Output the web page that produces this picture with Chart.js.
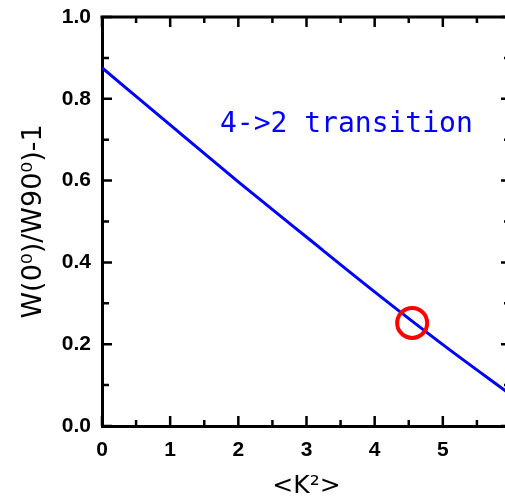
<!DOCTYPE html>
<html>
<head>
<meta charset="utf-8">
<script src="https://cdn.jsdelivr.net/npm/chart.js@4/dist/chart.umd.min.js"></script>
<style>
  html, body { margin: 0; padding: 0; background: #fff; overflow: hidden; }
  #wrap { width: 505px; height: 499px; overflow: hidden; }
  canvas { display: block; }
</style>
</head>
<body>
<div id="wrap"><canvas id="c" width="520" height="499"></canvas></div>
<script>
// ---- data ----
const kSquared = [0, 1, 2, 3, 4, 5, 6];
const anisotropy = [0.876, 0.736, 0.597, 0.462, 0.328, 0.199, 0.076];
const markedX = [4.55];
const markedY = [0.252];
const xTickLabels = [0, 1, 2, 3, 4, 5, 6];
const yTickLabels = [0.0, 0.2, 0.4, 0.6, 0.8, 1.0];
const annotationText = '4->2 transition';
const annotationAt = [1.73, 0.72];
const xTitle = '<K\u00B2>';
const yTitle = 'W(0\u2070)/W90\u2070)-1';

const curve = kSquared.map((x, i) => ({ x, y: anisotropy[i] }));
const marked = markedX.map((x, i) => ({ x, y: markedY[i] }));

const framePlugin = {
  id: 'frame',
  afterDraw(chart) {
    const { ctx, chartArea: a, scales: { x, y } } = chart;
    ctx.save();
    ctx.strokeStyle = '#000';
    ctx.lineCap = 'butt';
    // top & right borders
    ctx.lineWidth = 3;
    ctx.beginPath();
    ctx.moveTo(a.left - 1.5, a.top); ctx.lineTo(a.right + 1.5, a.top);
    ctx.moveTo(a.right, a.top); ctx.lineTo(a.right, a.bottom);
    ctx.stroke();
    // inward ticks
    ctx.lineWidth = 2.5;
    const xs = [], ys = [];
    for (let i = 0; i <= (xTickLabels.length - 1) * 2; i++) xs.push({ v: xTickLabels[0] + i * 0.5, major: i % 2 === 0 });
    for (let i = 0; i <= (yTickLabels.length - 1) * 2; i++) ys.push({ v: yTickLabels[0] + i * 0.1, major: i % 2 === 0 });
    ctx.beginPath();
    xs.forEach(t => {
      const px = x.getPixelForValue(t.v);
      const len = t.major ? 10 : 6;
      ctx.moveTo(px, a.bottom); ctx.lineTo(px, a.bottom - len);
      ctx.moveTo(px, a.top); ctx.lineTo(px, a.top + len);
    });
    ys.forEach(t => {
      const py = y.getPixelForValue(t.v);
      const len = t.major ? 10 : 7;
      ctx.moveTo(a.left, py); ctx.lineTo(a.left + len, py);
      ctx.moveTo(a.right, py); ctx.lineTo(a.right - len, py);
    });
    ctx.stroke();
    // annotation text
    ctx.fillStyle = '#0000ff';
    ctx.font = '28px "DejaVu Sans Mono"';
    ctx.textBaseline = 'alphabetic';
    ctx.textAlign = 'left';
    ctx.fillText(annotationText, x.getPixelForValue(annotationAt[0]), y.getPixelForValue(annotationAt[1]));
    ctx.restore();
  }
};

new Chart(document.getElementById('c'), {
  type: 'line',
  data: {
    datasets: [
      {
        data: curve,
        borderColor: '#0000ff',
        borderWidth: 3,
        pointRadius: 0,
        fill: false,
        cubicInterpolationMode: 'monotone',
        order: 2
      },
      {
        type: 'scatter',
        data: marked,
        pointStyle: 'circle',
        pointRadius: 15,
        pointBorderWidth: 4,
        pointBorderColor: '#ff0000',
        pointBackgroundColor: 'rgba(0,0,0,0)',
        showLine: false,
        order: 1
      }
    ]
  },
  options: {
    responsive: false,
    animation: false,
    devicePixelRatio: 1,
    layout: { autoPadding: false, padding: { top: 17, right: 9, left: 0, bottom: 0 } },
    plugins: { legend: { display: false }, tooltip: { enabled: false } },
    scales: {
      x: {
        type: 'linear',
        min: 0, max: 6,
        afterFit(s) { s.height = 73; s.paddingLeft = 0; s.paddingRight = 0; },
        afterBuildTicks(s) { s.ticks = xTickLabels.map(v => ({ value: v })); },
        grid: { display: false, drawTicks: false },
        border: { display: true, color: '#000', width: 3 },
        ticks: {
          color: '#000', padding: 12, maxRotation: 0,
          font: { family: 'Liberation Sans', size: 21, weight: 'bold' },
          callback: v => String(v)
        },
        title: {
          display: true, text: xTitle, color: '#000',
          font: { family: 'DejaVu Sans', size: 25, lineHeight: 1 },
          padding: { top: 0, bottom: 0 }
        }
      },
      y: {
        type: 'linear',
        min: 0, max: 1,
        afterFit(s) { s.width = 102; s.paddingTop = 0; s.paddingBottom = 0; },
        afterBuildTicks(s) { s.ticks = yTickLabels.map(v => ({ value: v })); },
        grid: { display: false, drawTicks: false },
        border: { display: true, color: '#000', width: 3 },
        ticks: {
          color: '#000', padding: 11,
          font: { family: 'Liberation Sans', size: 21, weight: 'bold' },
          callback: v => Number(v).toFixed(1)
        },
        title: {
          display: true, text: yTitle, color: '#000',
          font: { family: 'DejaVu Sans', size: 27, lineHeight: 1 },
          padding: { top: 20, bottom: 0 }
        }
      }
    }
  },
  plugins: [framePlugin]
});
</script>
</body>
</html>
